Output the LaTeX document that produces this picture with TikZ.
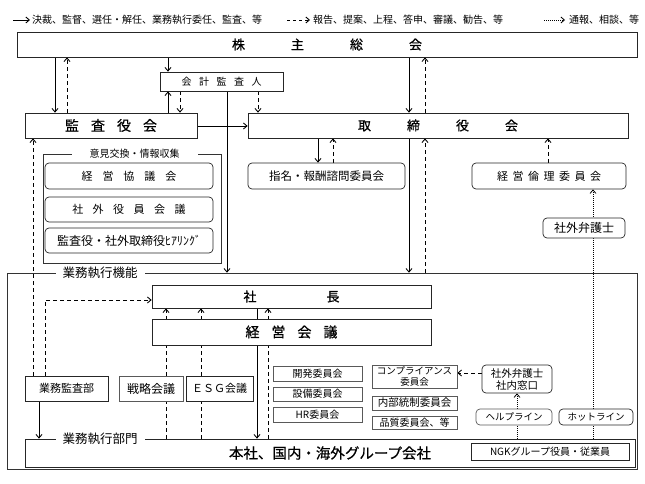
\documentclass[tikz,border=0pt]{standalone}
\usepackage{fontspec}
\setmainfont{Noto Sans CJK JP}
\newfontfamily\jpb[FakeBold=0.7]{Noto Sans CJK JP}
\usetikzlibrary{arrows.meta}
\pgfdeclarelayer{bg}
\pgfsetlayers{bg,main}
\newcommand{\fs}[1]{\fontsize{#1}{#1}\selectfont}
\begin{document}
\begin{tikzpicture}[x=1pt,y=-1pt,
 box/.style={draw=black!85, line width=0.7pt, fill=white, inner sep=0pt, align=center},
 gbox/.style={box, draw=black!65},
 rbox/.style={box, rounded corners=4pt},
 frame/.style={draw=black!80, line width=0.6pt, inner sep=0pt},
 lbl/.style={fill=white, inner ysep=1pt},
 sol/.style={line width=0.9pt, -{Straight Barb[length=3.5pt,width=6pt]}},
 dsh/.style={sol, dash pattern=on 4pt off 3pt},
 dot/.style={line width=0.8pt, dash pattern=on 1pt off 1pt, -{Straight Barb[length=3.5pt,width=6pt]}},
]
\useasboundingbox (0,0) rectangle (645,484);
\foreach \v in {33,39,45,55,67,166,168,180,201,227,257,258,268,318,333,409,425,517,548,593}
  {\coordinate (X\v) at (\v,0);}
\foreach \v in {126,300,373}
  {\coordinate (Y\v) at (0,\v);}

% legend
\coordinate (la1) at (13,20); \coordinate (la2) at (30,20);
\coordinate (lb1) at (287,20); \coordinate (lb2) at (310,20);
\coordinate (lc1) at (544,20); \coordinate (lc2) at (565,20);
\draw[sol] (la1) -- (la2);
\draw[dsh, dash pattern=on 3pt off 3pt] (lb1) -- (lb2);
\draw[dot] (lc1) -- (lc2);
\node[anchor=west, inner sep=0pt, font=\fs{10}] (lt1) at (32,20) {決裁、監督、選任・解任、業務執行委任、監査、等};
\node[anchor=west, inner sep=0pt, font=\fs{10}] (lt2) at (313,20) {報告、提案、上程、答申、審議、勧告、等};
\node[anchor=west, inner sep=0pt, font=\fs{10}] (lt3) at (569,20) {通報、相談、等};

% top part
\node[box, minimum width=620, minimum height=25, font=\jpb\fs{13}] (kabu) at (327,44.5) {株\hspace{46pt}主\hspace{46pt}総\hspace{46pt}会};
\node[box, minimum width=123, minimum height=19, font=\fs{10}] (kaikei) at (221.5,81.5) {会\hspace{7.5pt}計\hspace{7.5pt}監\hspace{7.5pt}査\hspace{7.5pt}人};
\node[box, minimum width=172, minimum height=25, font=\jpb\fs{14}] (kansa) at (111,125.5) {監\hspace{12pt}査\hspace{12pt}役\hspace{12pt}会};
\node[box, minimum width=380, minimum height=25, font=\jpb\fs{13}] (tori) at (438,125.5) {取\hspace{36pt}締\hspace{36pt}役\hspace{36pt}会};
\node[rbox, minimum width=157, minimum height=26, font=\fs{11.5}] (shimei) at (326.5,176) {指名・報酬諮問委員会};
\node[rbox, minimum width=154, minimum height=26, font=\fs{11}] (rinri) at (549,176) {経\hspace{4.5pt}営\hspace{4.5pt}倫\hspace{4.5pt}理\hspace{4.5pt}委\hspace{4.5pt}員\hspace{4.5pt}会};
\node[rbox, minimum width=82, minimum height=20, font=\fs{12}] (bengo1) at (584,228) {社外弁護士};

% exchange frame
\node[frame, minimum width=178, minimum height=109] (iken) at (132,208.5) {};
\node[lbl, inner xsep=18pt, font=\fs{10}] (ikenl) at (134.5,154) {意見交換・情報収集};
\node[rbox, minimum width=168, minimum height=26, font=\fs{11}] (kyogi) at (129,176) {経\hspace{10pt}営\hspace{10pt}協\hspace{10pt}議\hspace{10pt}会};
\node[rbox, minimum width=168, minimum height=25, font=\fs{11}] (shagai) at (129,209.5) {社\hspace{9.5pt}外\hspace{9.5pt}役\hspace{9.5pt}員\hspace{9.5pt}会\hspace{9.5pt}議};
\node[rbox, minimum width=168, minimum height=25, font=\fs{12}] (hearing) at (129,240.5) {監査役・社外取締役ﾋｱﾘﾝｸﾞ};

% execution frame
\node[frame, minimum width=630, minimum height=196] (gyomu) at (322,371) {};
\node[lbl, inner xsep=7pt, font=\fs{12.5}] (gyomul) at (100,273) {業務執行機能};
\node[box, minimum width=279, minimum height=23, font=\jpb\fs{13}] (shacho) at (291.5,296.5) {社\hspace{70pt}長};
\node[box, minimum width=279, minimum height=26, font=\jpb\fs{14}] (keiei) at (291.5,332) {経\hspace{12pt}営\hspace{12pt}会\hspace{12pt}議};
\node[box, minimum width=83, minimum height=25, font=\fs{11}] (kansabu) at (66.5,388.5) {業務監査部};
\node[gbox, minimum width=64, minimum height=25, font=\fs{12}] (senryaku) at (151,388.5) {戦略会議};
\node[box, minimum width=67, minimum height=25, font=\fs{11}] (esg) at (219.5,388.5) {ＥＳＧ会議};
\node[gbox, minimum width=89, minimum height=15, font=\fs{10}] (kaihatsu) at (317.5,373.5) {開発委員会};
\node[gbox, minimum width=89, minimum height=14, font=\fs{10}] (setsubi) at (317.5,394) {設備委員会};
\node[gbox, minimum width=89, minimum height=15, font=\fs{10}] (hr) at (317.5,414.5) {HR委員会};
\node[gbox, minimum width=85, minimum height=23, font=\fontsize{9.5}{10.5}\selectfont] (compl) at (414.5,376.5) {コンプライアンス\\委員会};
\node[gbox, minimum width=85, minimum height=14, font=\fs{10.5}] (naibu) at (414.5,403) {内部統制委員会};
\node[gbox, minimum width=85, minimum height=13, font=\fs{10}] (hinshitsu) at (414.5,422.5) {品質委員会、等};
\node[rbox, minimum width=70, minimum height=28, font=\fontsize{10.5}{12}\selectfont] (bengo2) at (517,379) {社外弁護士\\社内窓口};
\node[rbox, draw=black!65, minimum width=76, minimum height=16, font=\fs{9.5}] (help) at (514,417) {ヘルプライン};
\node[rbox, minimum width=74, minimum height=16, font=\fs{9.5}] (hot) at (596,417) {ホットライン};
\node[box, minimum width=610, minimum height=28, font=\jpb\fs{14.5}] (honsha) at (330,453) {本社、国内・海外グループ会社};
\node[lbl, inner xsep=7pt, font=\fs{12.5}] (bumonl) at (100,439) {業務執行部門};
\node[box, minimum width=158, minimum height=17, font=\fs{10}] (ngk) at (550,451.5) {NGKグループ役員・従業員};

\begin{pgfonlayer}{bg}
\draw[sol] (kabu.south -| X55) -- (kansa.north -| X55);
\draw[dsh] (kansa.north -| X67) -- (kabu.south -| X67);
\draw[sol] (kabu.south -| X168) -- (kaikei.north -| X168);
\draw[sol] (kansa.north -| X168) -- (kaikei.south -| X168);
\draw[dsh] (kaikei.south -| X180) -- (kansa.north -| X180);
\draw[dsh] (kaikei.south -| X258) -- (tori.north -| X258);
\draw[sol] (kaikei.south -| X227) -- (gyomu.north -| X227);
\draw[sol] (kansa.east |- Y126) -- (tori.west |- Y126);
\draw[sol] (kabu.south -| X409) -- (tori.north -| X409);
\draw[dsh] (tori.north -| X425) -- (kabu.south -| X425);
\draw[sol] (tori.south -| X318) -- (shimei.north -| X318);
\draw[dsh] (shimei.north -| X333) -- (tori.south -| X333);
\draw[sol] (tori.south -| X409) -- (gyomu.north -| X409);
\draw[dsh] (gyomu.north -| X425) -- (tori.south -| X425);
\draw[dsh] (rinri.north -| X548) -- (tori.south -| X548);
\draw[dot] (ngk.north -| X593) -- (rinri.south -| X593);
\draw[dsh] (kansabu.north -| X33) -- (kansa.south -| X33);
\draw[dsh] (kansabu.north -| X45) |- (shacho.west |- Y300);
\draw[sol] (kansabu.south -| X39) -- (honsha.north -| X39);
\draw[dsh] (honsha.north -| X166) -- (shacho.south -| X166);
\draw[dsh] (honsha.north -| X201) -- (shacho.south -| X201);
\draw[dsh] (honsha.north -| X268) -- (shacho.south -| X268);
\draw[sol] (shacho.south -| X257) -- (honsha.north -| X257);
\draw[dsh] (bengo2.west |- Y373) -- (compl.east |- Y373);
\draw[dot] (ngk.north -| X517) -- (bengo2.south -| X517);
\end{pgfonlayer}
\end{tikzpicture}
\end{document}
